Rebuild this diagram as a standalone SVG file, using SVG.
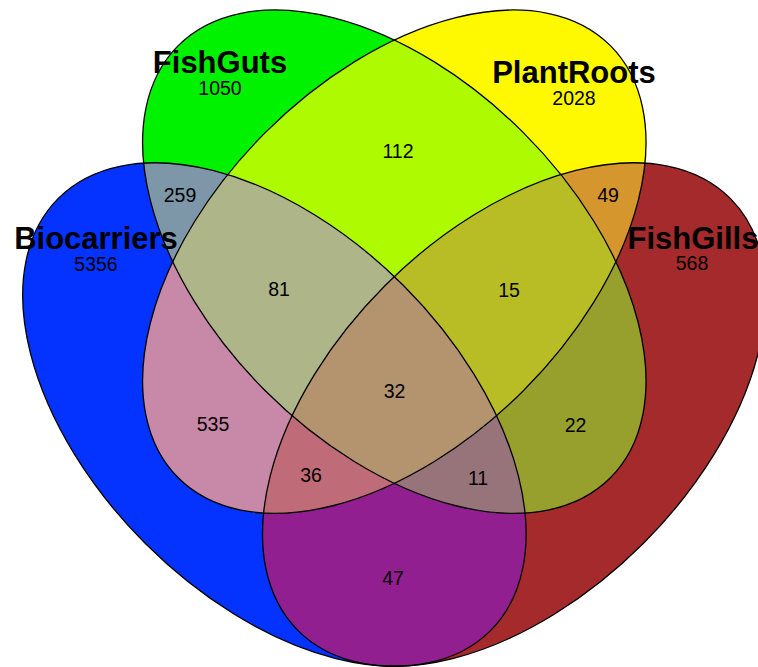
<svg xmlns="http://www.w3.org/2000/svg" width="758" height="667" viewBox="0 0 758 667">
<style>
.ol{fill:none;stroke:#000;stroke-width:1.3}
.lab{font-family:"Liberation Sans",Arial,sans-serif;font-weight:bold;font-size:31px;text-anchor:middle;fill:#000}
.num{font-family:"Liberation Sans",Arial,sans-serif;font-size:19.5px;text-anchor:middle;fill:#000}
</style>
<defs>
<ellipse id="eB" cx="274.4" cy="414.5" rx="305.6" ry="182.5" transform="rotate(45 274.4 414.5)"/>
<ellipse id="eG" cx="394.3" cy="261.7" rx="305.6" ry="182.5" transform="rotate(45 394.3 261.7)"/>
<ellipse id="eY" cx="394.3" cy="261.7" rx="305.6" ry="182.5" transform="rotate(-45 394.3 261.7)"/>
<ellipse id="eR" cx="514.2" cy="414.5" rx="305.6" ry="182.5" transform="rotate(-45 514.2 414.5)"/>
<clipPath id="cB"><ellipse cx="274.4" cy="414.5" rx="305.6" ry="182.5" transform="rotate(45 274.4 414.5)"/></clipPath>
<clipPath id="cG"><ellipse cx="394.3" cy="261.7" rx="305.6" ry="182.5" transform="rotate(45 394.3 261.7)"/></clipPath>
<clipPath id="cY"><ellipse cx="394.3" cy="261.7" rx="305.6" ry="182.5" transform="rotate(-45 394.3 261.7)"/></clipPath>
<clipPath id="cR"><ellipse cx="514.2" cy="414.5" rx="305.6" ry="182.5" transform="rotate(-45 514.2 414.5)"/></clipPath>
</defs>
<rect width="758" height="667" fill="#fff"/>
<g id="fills">
<use href="#eB" fill="#0433ff"/>
<use href="#eG" fill="#00f200"/>
<use href="#eY" fill="#fff900"/>
<use href="#eR" fill="#a52a2b"/>
<!-- pairs -->
<g clip-path="url(#cB)"><use href="#eG" fill="#7d97a8"/></g>
<g clip-path="url(#cG)"><use href="#eY" fill="#aefa00"/></g>
<g clip-path="url(#cY)"><use href="#eR" fill="#d6962e"/></g>
<g clip-path="url(#cB)"><use href="#eR" fill="#921f8f"/></g>
<g clip-path="url(#cB)"><use href="#eY" fill="#c888a8"/></g>
<g clip-path="url(#cG)"><use href="#eR" fill="#97a02c"/></g>
<!-- triples -->
<g clip-path="url(#cB)"><g clip-path="url(#cG)"><use href="#eY" fill="#aeb589"/></g></g>
<g clip-path="url(#cG)"><g clip-path="url(#cY)"><use href="#eR" fill="#b9bd25"/></g></g>
<g clip-path="url(#cB)"><g clip-path="url(#cY)"><use href="#eR" fill="#c06b78"/></g></g>
<g clip-path="url(#cB)"><g clip-path="url(#cG)"><use href="#eR" fill="#977479"/></g></g>
<!-- all four -->
<g clip-path="url(#cB)"><g clip-path="url(#cG)"><g clip-path="url(#cY)"><use href="#eR" fill="#b3946f"/></g></g></g>
</g>
<g id="Biocarriers"><use href="#eB" class="ol"/><text class="lab" x="96" y="249">Biocarriers</text><text class="num" x="96" y="271">5356</text></g>
<g id="FishGuts"><use href="#eG" class="ol"/><text class="lab" x="220" y="73">FishGuts</text><text class="num" x="220" y="95">1050</text></g>
<g id="PlantRoots"><use href="#eY" class="ol"/><text class="lab" x="574" y="83">PlantRoots</text><text class="num" x="574" y="105">2028</text></g>
<g id="FishGills"><use href="#eR" class="ol"/><text class="lab" x="693" y="249">FishGills</text><text class="num" x="692" y="270">568</text></g>
<g id="counts">
<text class="num" x="180" y="202">259</text>
<text class="num" x="398" y="158">112</text>
<text class="num" x="608" y="202">49</text>
<text class="num" x="279" y="296">81</text>
<text class="num" x="509" y="297">15</text>
<text class="num" x="394.5" y="398">32</text>
<text class="num" x="213" y="431">535</text>
<text class="num" x="575.5" y="432">22</text>
<text class="num" x="311" y="482">36</text>
<text class="num" x="478" y="485">11</text>
<text class="num" x="393" y="585">47</text>
</g>
</svg>
